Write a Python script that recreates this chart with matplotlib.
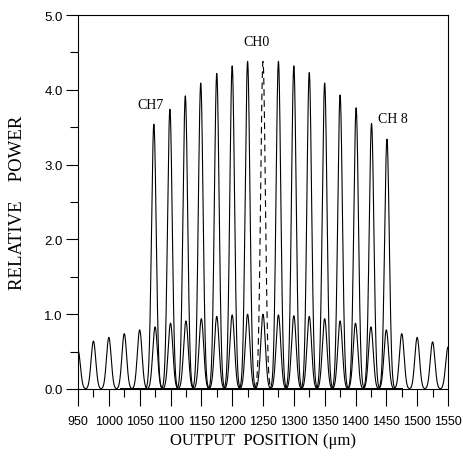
import numpy as np
import matplotlib
matplotlib.use('Agg')
import matplotlib.pyplot as plt
from matplotlib.ticker import MultipleLocator, FormatStrFormatter

######## data
# main channel peaks (CH7 ... CH8, CH0 drawn separately dashed)
main_pos = [1073, 1099, 1124, 1149, 1175, 1200, 1225,
            1275, 1300, 1325, 1350, 1375, 1401, 1426, 1451]
main_height = [3.54, 3.74, 3.92, 4.09, 4.22, 4.32, 4.38,
               4.38, 4.32, 4.23, 4.09, 3.93, 3.76, 3.55, 3.34]
ch0_pos = 1250
ch0_height = 4.38

# small side peaks
side_pos = [950, 975, 1000, 1025, 1050, 1075, 1100, 1125, 1150, 1175, 1200,
            1225, 1250, 1275, 1300, 1325, 1350, 1375, 1400, 1425, 1450,
            1475, 1500, 1525, 1550]
side_height = [0.52, 0.64, 0.69, 0.74, 0.79, 0.83, 0.88, 0.91, 0.94, 0.97, 0.99,
               1.00, 1.00, 0.99, 0.98, 0.97, 0.94, 0.91, 0.88, 0.83, 0.79,
               0.74, 0.69, 0.63, 0.56]

labels = ['CH7', 'CH0', 'CH 8']
label_xy = [(1067, 3.80), (1240, 4.64), (1461, 3.61)]

xticks = np.arange(950, 1551, 50)
width = 3.8   # peak width (sigma), um

tickfont = 'Liberation Sans'
serif = 'Liberation Serif'

def peak(x, c, h):
    return h*np.exp(-(x - c)**2/(2*width**2))

fig = plt.figure(figsize=(4.63, 4.64), dpi=100)
ax = fig.add_axes([0.1685, 0.1595, 0.7991, 0.806])

# channel curves
xm = np.linspace(1020, 1475, 3000)
for c, h in zip(main_pos, main_height):
    ax.plot(xm, peak(xm, c, h), color='black', lw=0.8)

ax.plot(xm, peak(xm, ch0_pos, ch0_height), color='black', lw=0.8, ls=(0, (6, 4)))

# side peaks
xs = np.linspace(950, 1550, 4000)
ys = np.zeros_like(xs)
for c, h in zip(side_pos, side_height):
    ys += peak(xs, c, h)
ax.plot(xs, ys, color='black', lw=0.8)

for t, (x, y) in zip(labels, label_xy):
    ax.text(x, y, t, family=serif, fontsize=10, ha='center', va='center')

ax.set_xlim(950, 1550)
ax.set_ylim(0, 5.0)
ax.set_xticks(xticks)
ax.xaxis.set_minor_locator(MultipleLocator(25))
ax.yaxis.set_major_locator(MultipleLocator(1.0))
ax.yaxis.set_minor_locator(MultipleLocator(0.5))
ax.yaxis.set_major_formatter(FormatStrFormatter('%.1f'))

ax.tick_params(axis='x', which='major', direction='out', length=12, width=0.8, pad=7)
ax.tick_params(axis='x', which='minor', direction='out', length=6, width=0.8)
ax.tick_params(axis='y', which='major', direction='out', length=9, width=0.8, pad=2)
ax.tick_params(axis='y', which='minor', direction='out', length=6, width=0.8)
for lab in ax.get_xticklabels():
    lab.set_family(tickfont)
    lab.set_fontsize(9)
for lab in ax.get_yticklabels():
    lab.set_family(tickfont)
    lab.set_fontsize(9.5)

for s in ax.spines.values():
    s.set_linewidth(0.8)

ax.set_ylabel('RELATIVE    POWER', family=serif, fontsize=13.5, labelpad=13)
ax.set_xlabel('OUTPUT  POSITION (\u03bcm)', family=serif, fontsize=12, labelpad=3)

fig.savefig('out.png', dpi=100)
